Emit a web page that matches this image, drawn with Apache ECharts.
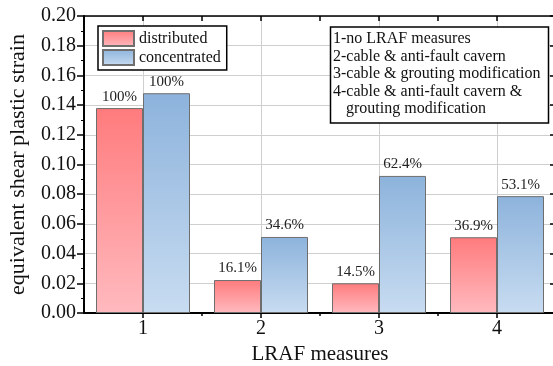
<!DOCTYPE html>
<html>
<head>
<meta charset="utf-8">
<script src="https://cdn.jsdelivr.net/npm/echarts@6/dist/echarts.min.js"></script>
<style>
html,body{margin:0;padding:0;background:#fff;}
#chart{width:553px;height:366px;}
</style>
</head>
<body>
<div id="chart"></div>
<script>
var categories = ['1', '2', '3', '4'];
var distributed = [0.138, 0.0222, 0.0200, 0.0510];
var concentrated = [0.148, 0.0512, 0.0923, 0.0787];
var distributedLabels = ['100%', '16.1%', '14.5%', '36.9%'];
var concentratedLabels = ['100%', '34.6%', '62.4%', '53.1%'];
var seriesNames = ['distributed', 'concentrated'];
var noteLines = [
  '1-no LRAF measures',
  '2-cable & anti-fault cavern',
  '3-cable & grouting modification',
  '4-cable & anti-fault cavern &',
  'grouting modification'
];
var noteIndent = [0, 0, 0, 0, 1];

var FONT = "'Liberation Serif', 'Times New Roman', serif";

// half-category tick positions for decoration axes
var halfTicks = [];
for (var i = 0; i <= categories.length * 2; i++) halfTicks.push('');

function grad(top, bottom) {
  return new echarts.graphic.LinearGradient(0, 0, 0, 1, [
    {offset: 0, color: top}, {offset: 1, color: bottom}
  ]);
}

var noteGraphics = [{
  type: 'rect',
  shape: {x: 330.5, y: 27, width: 218, height: 96},
  style: {fill: '#fff', stroke: '#000', lineWidth: 1.5},
  z: 100
}];
noteLines.forEach(function (t, k) {
  noteGraphics.push({
    type: 'text',
    x: 333 + noteIndent[k] * 13,
    y: 31 + k * 17.5,
    style: {text: t, font: '16px ' + FONT, fill: '#111', textVerticalAlign: 'top'},
    z: 101
  });
});

var chart = echarts.init(document.getElementById('chart'), null, {renderer: 'canvas'});
chart.setOption({
  animation: false,
  backgroundColor: '#fff',
  grid: {left: 84, top: 16, width: 472, height: 297, containLabel: false, outerBoundsMode: 'none'},
  legend: {
    data: seriesNames,
    orient: 'vertical',
    left: 98, top: 26,
    itemWidth: 31, itemHeight: 15, itemGap: 2,
    padding: [4, 6, 4, 4],
    borderColor: '#000', borderWidth: 1.5,
    backgroundColor: '#fff',
    icon: 'rect',
    textStyle: {fontFamily: FONT, fontSize: 16, color: '#111'}
  },
  xAxis: [
    {
      type: 'category', data: categories, boundaryGap: true, position: 'bottom',
      axisLine: {lineStyle: {color: '#000', width: 2}},
      axisTick: {show: false},
      axisLabel: {fontFamily: FONT, fontSize: 20, color: '#111', margin: 6},
      splitLine: {show: false},
      name: 'LRAF measures', nameLocation: 'middle', nameGap: 29,
      nameTextStyle: {fontFamily: FONT, fontSize: 21, color: '#111'}
    },
    {
      type: 'category', data: halfTicks, boundaryGap: false, position: 'bottom',
      axisLine: {show: false},
      axisLabel: {show: false},
      axisTick: {show: true, interval: function (i) { return i % 2 === 1; }, length: 5,
        lineStyle: {color: '#000', width: 1.5}},
      splitLine: {show: true, interval: function (i) { return i % 2 === 1; },
        lineStyle: {color: '#cfcfcf', width: 1}}
    },
    {
      type: 'category', data: halfTicks, boundaryGap: false, position: 'bottom',
      axisLine: {show: false},
      axisLabel: {show: false},
      axisTick: {show: true, interval: function (i) { return i % 2 === 0 && i > 0 && i < halfTicks.length - 1; }, length: 3,
        lineStyle: {color: '#000', width: 1.5}},
      splitLine: {show: false}
    },
    {
      type: 'category', data: halfTicks, boundaryGap: false, position: 'top',
      axisLine: {show: true, lineStyle: {color: '#000', width: 1.5}},
      axisLabel: {show: false},
      axisTick: {show: true, inside: true, interval: function (i) { return i > 0 && i < halfTicks.length - 1; }, length: 5,
        lineStyle: {color: '#000', width: 1.5}},
      splitLine: {show: false}
    }
  ],
  yAxis: [
    {
      type: 'value', min: 0, max: 0.2, interval: 0.02, position: 'left',
      axisLine: {show: true, lineStyle: {color: '#000', width: 2}},
      axisTick: {show: true, length: 7, lineStyle: {color: '#000', width: 1.5}},
      minorTick: {show: true, splitNumber: 2, length: 3, lineStyle: {color: '#000', width: 1}},
      axisLabel: {fontFamily: FONT, fontSize: 20, color: '#111', margin: 8,
        formatter: function (v) { return v.toFixed(2); }},
      splitLine: {show: true, lineStyle: {color: '#cfcfcf', width: 1}},
      name: 'equivalent shear plastic strain', nameLocation: 'middle', nameGap: 55,
      nameTextStyle: {fontFamily: FONT, fontSize: 22, color: '#111'}
    },
    {
      type: 'value', min: 0, max: 0.2, interval: 0.02, position: 'right',
      axisLine: {show: true, lineStyle: {color: '#000', width: 1.5}},
      axisTick: {show: true, inside: true, length: 6, lineStyle: {color: '#000', width: 1.5}},
      minorTick: {show: true, splitNumber: 2, length: 3, lineStyle: {color: '#000', width: 1}},
      axisLabel: {show: false},
      splitLine: {show: false}
    }
  ],
  series: [
    {
      name: seriesNames[0], type: 'bar', xAxisIndex: 0, yAxisIndex: 0,
      data: distributed, barWidth: 47, barGap: '0%',
      itemStyle: {color: grad('#ff7b7d', '#ffbabf'), borderColor: '#6e6e6e', borderWidth: 1},
      label: {show: true, position: 'top', distance: 4,
        formatter: function (p) { return distributedLabels[p.dataIndex]; },
        fontFamily: FONT, fontSize: 15, color: '#222'}
    },
    {
      name: seriesNames[1], type: 'bar', xAxisIndex: 0, yAxisIndex: 0,
      data: concentrated, barWidth: 47, barGap: '0%',
      itemStyle: {color: grad('#8db3dc', '#c8dcf1'), borderColor: '#6e6e6e', borderWidth: 1},
      label: {show: true, position: 'top', distance: 4,
        formatter: function (p) { return concentratedLabels[p.dataIndex]; },
        fontFamily: FONT, fontSize: 15, color: '#222'}
    }
  ],
  graphic: noteGraphics
});
</script>
</body>
</html>
